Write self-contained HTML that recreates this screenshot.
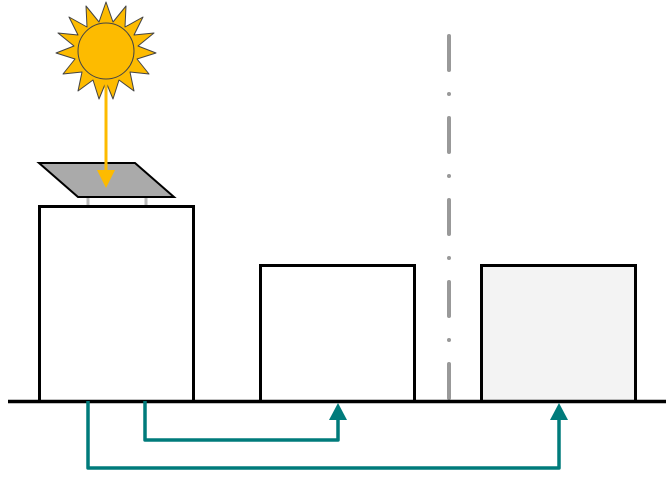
<!DOCTYPE html>
<html><head><style>html,body{margin:0;padding:0;background:#fff}svg{display:block}</style></head>
<body>
<svg width="670" height="478" viewBox="0 0 670 478" xmlns="http://www.w3.org/2000/svg">
<line x1="449" y1="36" x2="449" y2="402" stroke="#999" stroke-width="4" stroke-linecap="round" stroke-dasharray="34 24 0 24"/>
<rect x="39.5" y="206.5" width="154" height="195" fill="#fff" stroke="#000" stroke-width="3"/>
<rect x="260.5" y="265.5" width="154" height="136" fill="#fff" stroke="#000" stroke-width="3"/>
<rect x="481.5" y="265.5" width="154" height="136" fill="#f3f3f3" stroke="#000" stroke-width="3"/>
<line x1="8" y1="401.5" x2="666" y2="401.5" stroke="#000" stroke-width="3.5"/>
<line x1="88" y1="197" x2="88" y2="205" stroke="#bbb" stroke-width="3"/>
<line x1="146" y1="197" x2="146" y2="205" stroke="#bbb" stroke-width="3"/>
<polygon points="39,163 135,163 174,197 78,197" fill="#aaa" stroke="#000" stroke-width="2"/>
<polygon points="106,2 113,22 126,6 125,27 143,17 134,35 154,33 138,46 156,53 137,59 149,74 130,72 134,91 119,80 113,99 106,82 99,99 93,80 78,91 82,72 63,74 75,59 56,53 74,46 58,33 78,35 69,17 87,27 86,6 99,22" fill="#fdbb00" stroke="#444" stroke-width="1" stroke-linejoin="round"/>
<circle cx="106" cy="51" r="28" fill="#fdbb00" stroke="#444" stroke-width="1"/>
<line x1="106" y1="80" x2="106" y2="172" stroke="#fdbb00" stroke-width="3"/>
<polygon points="97,170 115,170 106,188" fill="#fdbb00"/>
<polyline points="88,401 88,468 559,468 559,418" fill="none" stroke="#007b7b" stroke-width="3.5" stroke-linejoin="round"/>
<polygon points="550,420 568,420 559,403" fill="#007b7b"/>
<polyline points="145,401 145,440 338,440 338,418" fill="none" stroke="#007b7b" stroke-width="3.5" stroke-linejoin="round"/>
<polygon points="329,420 347,420 338,403" fill="#007b7b"/>
</svg>
</body></html>
